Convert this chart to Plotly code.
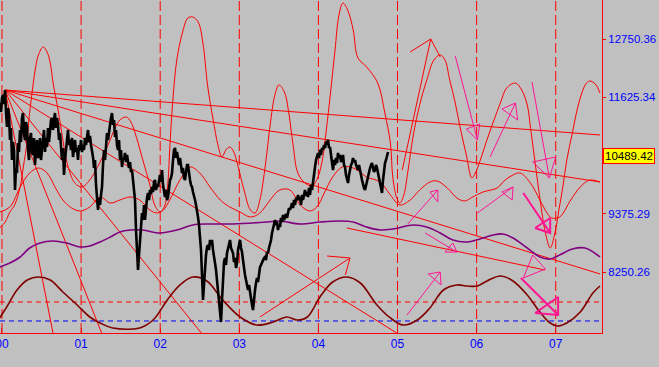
import plotly.graph_objects as go

# ---- price series: one reading per sample (regular sampling, ~4.6 days apart)
price_start_year = -0.025
price_step_year = 0.012642
price_value = [
    11517,11343,11614,11672,11498,11768,11343,11054,11421,11286,
    10803,11035,10417,10764,10610,9838,10263,10166,10745,10571,
    10996,10764,11228,11324,10957,10803,11150,11054,10610,10417,
    10842,10938,10571,10514,10842,10321,10649,10803,10456,10514,
    10842,10417,10610,10880,10996,10571,10842,10668,11035,10764,
    11093,11189,11228,10996,11189,11324,11035,11228,11093,10803,
    10938,10610,10417,10649,10128,10417,10610,10842,10996,10707,
    10803,10610,10842,10475,10707,10803,10571,10649,10417,10707,
    10610,10803,10571,10707,10610,10842,10707,10900,10996,10764,
    10880,10707,10610,10475,10263,10417,9935,9742,9452,9684,
    9549,9742,9896,10321,10610,10417,10803,10938,10803,11035,
    11093,11228,11324,11093,11189,10861,10996,10707,10610,10803,
    10417,10610,10282,10456,10417,10552,10378,10514,10417,10263,
    10378,10185,10224,9992,9838,9645,9066,8680,8294,8584,
    8873,9163,9394,9259,9549,9259,9549,9684,9780,9645,
    9838,9761,9896,9799,9992,10031,9838,9935,9896,10070,
    10128,9992,10224,9935,9799,9703,9838,9645,9703,9935,
    10031,10070,10166,10417,10610,10649,10456,10571,10417,10321,
    10456,10224,10166,10263,10070,10031,10185,10321,10321,10128,
    10031,9935,9896,9799,9742,9645,9549,9452,9317,9163,
    8970,8680,8198,7715,8005,8391,8584,8738,8777,8680,
    8873,8777,8873,8680,8584,8429,8294,8101,7850,7619,
    7426,7290,7715,8236,8448,8526,8391,8622,8719,8777,
    8873,8719,8680,8622,8448,8526,8333,8429,8680,8777,
    8873,8719,8641,8487,8294,8198,8101,7966,7908,8005,
    7850,7715,7619,7522,7812,7908,8043,8140,8062,8255,
    8352,8391,8448,8487,8526,8545,8487,8641,8622,8719,
    8777,8873,9008,9105,9163,9259,9163,9220,9066,9163,
    9124,9298,9220,9356,9259,9317,9375,9298,9394,9491,
    9452,9549,9587,9491,9645,9549,9684,9645,9742,9645,
    9703,9549,9742,9645,9799,9838,9722,9799,9703,9877,
    9742,9935,9838,10031,10128,10282,10417,10475,10552,10456,
    10610,10514,10649,10610,10707,10649,10764,10745,10803,10649,
    10668,10514,10378,10224,10417,10321,10456,10359,10552,10456,
    10514,10378,10417,10514,10321,10282,10128,10070,9973,10128,
    10263,10321,10359,10456,10378,10417,10321,10263,10224,10321,
    10185,10128,10031,9935,9877,9838,9935,10031,10089,10185,
    10263,10321,10359,10263,10185,10224,10321,10263,10166,10031,
    9935,9838,9780,10031,10224,10359,10417,10514,10571]
price_year = [price_start_year + i * price_step_year for i in range(len(price_value))]

# ---- composite cycle curves
c1_year = [-0.03,0.04,0.10,0.16,0.23,0.27,0.32,0.34,0.38,0.42,
           0.46,0.52,0.57,0.61,0.65,0.71,0.77,0.83,0.92,1.01,
           1.11,1.24,1.34,1.43,1.49,1.57,1.63,1.71,1.78,1.87,
           1.93,2.00,2.06,2.10,2.12,2.16,2.21,2.28,2.35,2.41,
           2.48,2.54,2.60,2.67,2.73,2.78,2.83,2.88,2.93,2.98,
           3.06,3.14,3.20,3.26,3.33,3.39,3.45,3.50,3.57,3.62,
           3.68,3.74,3.83,3.92,3.99,4.05,4.10,4.15,4.21,4.26,
           4.31,4.37,4.44,4.50,4.61,4.75,4.84,4.91,4.94,4.99,
           5.03,5.08,5.13,5.20,5.28,5.37,5.46,5.54,5.60,5.66,
           5.73,5.79,5.87,5.94,5.99,6.06,6.13,6.22,6.30,6.38,
           6.49,6.57,6.64,6.68,6.73,6.78,6.83,6.87,6.93,6.99,
           7.04,7.09,7.14,7.21,7.27,7.33,7.38,7.43,7.50,7.56]
c1_value = [9105,9220,9413,9549,9896,10282,10803,11189,11710,12154,
            12444,12598,12501,12289,11865,11382,10803,10321,9973,9896,
            10031,10378,10707,11035,11189,11247,11150,10803,10417,9935,
            9549,9413,9549,10031,10610,11575,12347,12868,13158,13177,
            13080,12675,11845,11189,10707,10475,10610,10668,10572,10321,
            9838,9452,9394,9645,10321,11093,11672,11865,11729,11382,
            10707,10166,9973,9915,10070,10417,10996,11672,12540,13215,
            13447,13312,12926,12386,12212,11903,11324,10745,10089,9684,
            9587,9742,10185,10900,11479,11961,12347,12444,12347,11961,
            11517,11054,10514,10070,10185,10475,10803,11189,11517,11807,
            11903,11768,11479,11054,10475,9896,9356,9008,8719,9008,
            9452,9896,10417,10938,11382,11710,11884,11942,11884,11710]

c2_year = [-0.03,0.10,0.23,0.35,0.46,0.57,0.67,0.77,0.88,0.99,
           1.11,1.24,1.37,1.49,1.62,1.74,1.87,1.96,2.04,2.12,
           2.25,2.38,2.50,2.63,2.76,2.88,3.01,3.14,3.26,3.39,
           3.51,3.64,3.77,3.89,3.98,4.08,4.18,4.30,4.40,4.49,
           4.61,4.78,4.91,5.03,5.16,5.28,5.41,5.50,5.63,5.75,
           5.85,5.95,6.08,6.26,6.36,6.46,6.55,6.68,6.80,6.89,
           6.95,7.05,7.19,7.31,7.43,7.56]
c2_value = [9413,9510,9896,10166,10263,10166,9896,9645,9491,9433,
            9510,9703,9587,9645,9703,9645,9452,9394,9452,9645,
            10031,10282,10166,9896,9645,9510,9413,9317,9394,9645,
            9838,9838,9549,9433,9510,9799,10089,10282,10282,10224,
            10089,9993,9742,9549,9645,9838,9993,10012,9877,9684,
            9626,9703,9799,9877,10031,10128,10166,9973,9645,9394,
            9298,9317,9645,9896,10031,9993]

c3_year = [-0.03,0.10,0.23,0.35,0.48,0.64,0.82,0.99,1.11,1.24,
           1.37,1.49,1.62,1.78,2.00,2.21,2.41,2.63,2.92,3.35,
           3.51,3.77,4.02,4.27,4.44,4.61,4.78,4.94,5.20,5.37,
           5.54,5.70,5.88,6.04,6.21,6.33,6.46,6.64,6.80,6.93,
           7.05,7.21,7.37,7.56]
c3_value = [8352,8429,8545,8719,8815,8854,8815,8738,8757,8835,
            8931,9028,9066,9066,9008,9066,9163,9182,9182,9220,
            9240,9182,9220,9240,9220,9124,9066,9085,9163,9124,
            9008,8873,8835,8893,8970,8989,8912,8719,8545,8506,
            8584,8699,8719,8545]

c4_year = [-0.03,0.06,0.19,0.32,0.46,0.61,0.77,0.95,1.11,1.24,
           1.40,1.74,1.91,2.09,2.25,2.41,2.59,2.79,3.01,3.22,
           3.43,3.60,3.73,3.86,4.02,4.18,4.36,4.53,4.74,4.91,
           5.07,5.25,5.41,5.58,5.75,5.88,6.01,6.13,6.30,6.46,
           6.64,6.80,6.93,7.02,7.14,7.31,7.47,7.56]
c4_value = [7368,7580,7908,8101,8159,8101,7869,7619,7387,7271,
            7175,7175,7329,7715,8005,8159,8082,7715,7387,7232,
            7290,7387,7329,7387,7773,8062,8159,8043,7619,7368,
            7232,7329,7561,7908,8005,7985,7985,8082,8178,8082,
            7812,7483,7271,7213,7271,7483,7850,7985]

# ---- fan lines from the 2000 high
fan_apex_year = 0.04
fan_apex_value = 11768
fan_end_year = [7.56, 7.56, 7.56, 4.99, 2.52, 1.26, 0.645]
fan_end_value = [10900, 9993, 8217, 7078, 7078, 7078, 7078]

# ---- channel line
chan_year = [4.36, 6.865]
chan_value = [9105, 8294]

# ---- arrows: (tail_y, tail_v, tip_y, tip_v, head1_y, head1_v, head2_y, head2_v)
red_arrows = [
    (5.06, 10224, 5.42, 12752, 5.16, 12501, 5.54, 12405),
    (3.26, 7387, 4.40, 8526, 4.11, 8564, 4.34, 8198),
]
pink_arrows = [
    (5.73, 12424, 6.01, 10803, 5.87, 11015, 6.04, 11112),
    (6.17, 10475, 6.49, 11517, 6.32, 11401, 6.52, 11189),
    (6.70, 11922, 6.92, 10070, 6.71, 10378, 7.00, 10475),
    (6.01, 9394, 6.46, 9896, 6.32, 9799, 6.45, 9645),
    (5.13, 9182, 5.51, 9838, 5.41, 9799, 5.51, 9607),
    (5.35, 9008, 5.75, 8641, 5.60, 8641, 5.70, 8815),
    (5.12, 7425, 5.54, 8255, 5.39, 8217, 5.55, 8005),
]
pink_thick_arrows = [
    (6.59, 9780, 6.93, 9008, 6.74, 9105, 6.93, 9298),
    (6.56, 8140, 7.03, 7425, 6.74, 7464, 7.03, 7773),
]
pink_triangle_year = [6.59, 6.71, 6.87, 6.59]
pink_triangle_value = [8140, 8584, 8313, 8140]

cycle_years = [0, 1, 2, 3, 4, 5, 6, 7]
x_ticktext = ["00", "01", "02", "03", "04", "05", "06", "07"]
y_tickvals = [8250.26, 9375.29, 11625.34, 12750.36]
y_ticktext = ["8250.26", "9375.29", "11625.34", "12750.36"]
last_value = 10489.42
support_red = 7676
support_blue = 7310

RED = "#ff0000"
PINK = "#ff1493"
FONT = "Liberation Sans"

fig = go.Figure()

def add(x, y, color, width, shape="linear"):
    fig.add_trace(go.Scatter(x=x, y=y, mode="lines",
                             line=dict(color=color, width=width, shape=shape),
                             hoverinfo="skip", showlegend=False))

# fan lines
for ey, ev in zip(fan_end_year, fan_end_value):
    add([fan_apex_year, ey], [fan_apex_value, ev], RED, 1)
add(chan_year, chan_value, RED, 1)

# cycle curves
add(c4_year, c4_value, "#800000", 1.6, "spline")
add(c3_year, c3_value, "#800080", 1.6, "spline")
add(c2_year, c2_value, RED, 1, "spline")
add(c1_year, c1_value, RED, 1, "spline")

def arrow(a, color, width, closed=True):
    ty, tv, py_, pv, h1y, h1v, h2y, h2v = a
    xs = [ty, py_, None, h1y, py_, h2y]
    ys = [tv, pv, None, h1v, pv, h2v]
    if closed:
        xs.append(h1y)
        ys.append(h1v)
    add(xs, ys, color, width)

for a in red_arrows:
    arrow(a, RED, 1, closed=False)
for a in pink_arrows:
    arrow(a, PINK, 1)
for a in pink_thick_arrows:
    arrow(a, PINK, 2)
add(pink_triangle_year, pink_triangle_value, PINK, 1)

# price
add(price_year, price_value, "#000000", 2.6)

# cycle verticals
for yr in cycle_years:
    fig.add_shape(type="line", x0=yr, x1=yr, y0=0, y1=1, yref="paper",
                  line=dict(color=RED, width=1, dash="10px,4px"), layer="below")
fig.add_shape(type="line", x0=0, x1=1, xref="paper", y0=support_red, y1=support_red,
              line=dict(color=RED, width=1, dash="5px,4px"), layer="below")
fig.add_shape(type="line", x0=0, x1=1, xref="paper", y0=support_blue, y1=support_blue,
              line=dict(color="#0000ff", width=1, dash="5px,4px"), layer="below")

fig.add_annotation(x=1, xref="paper", xanchor="left", xshift=1,
                   y=last_value, yref="y", text=f"{last_value:.2f}",
                   showarrow=False, font=dict(color="black", size=11.5, family=FONT),
                   bgcolor="#ffff00", bordercolor=RED, borderwidth=1, borderpad=1)

fig.update_layout(
    width=659, height=367,
    margin=dict(l=0, r=57, t=0, b=34, pad=0, autoexpand=False),
    paper_bgcolor="#c0c0c0", plot_bgcolor="#c0c0c0",
    font=dict(family=FONT, size=12, color="#0000ff"),
    xaxis=dict(range=[-0.025, 7.585], tickvals=cycle_years, ticktext=x_ticktext,
               ticks="inside", ticklen=5, tickcolor=RED, showline=True,
               linecolor=RED, linewidth=1, showgrid=False, zeroline=False,
               ticklabeloverflow="allow", automargin=False,
               tickfont=dict(color="#0000ff", size=12)),
    yaxis=dict(range=[7078, 13505], side="right", tickvals=y_tickvals,
               ticktext=y_ticktext, ticks="outside", ticklen=3, tickcolor=RED,
               showline=True, linecolor=RED, linewidth=1, showgrid=False,
               zeroline=False, automargin=False,
               tickfont=dict(color="#0000ff", size=11.5)),
)

fig.write_html("out.html", config={"displayModeBar": False},
               post_script="document.body.style.margin='0px';document.body.style.padding='0px';document.body.style.overflow='hidden';document.body.style.background='#c0c0c0';")
